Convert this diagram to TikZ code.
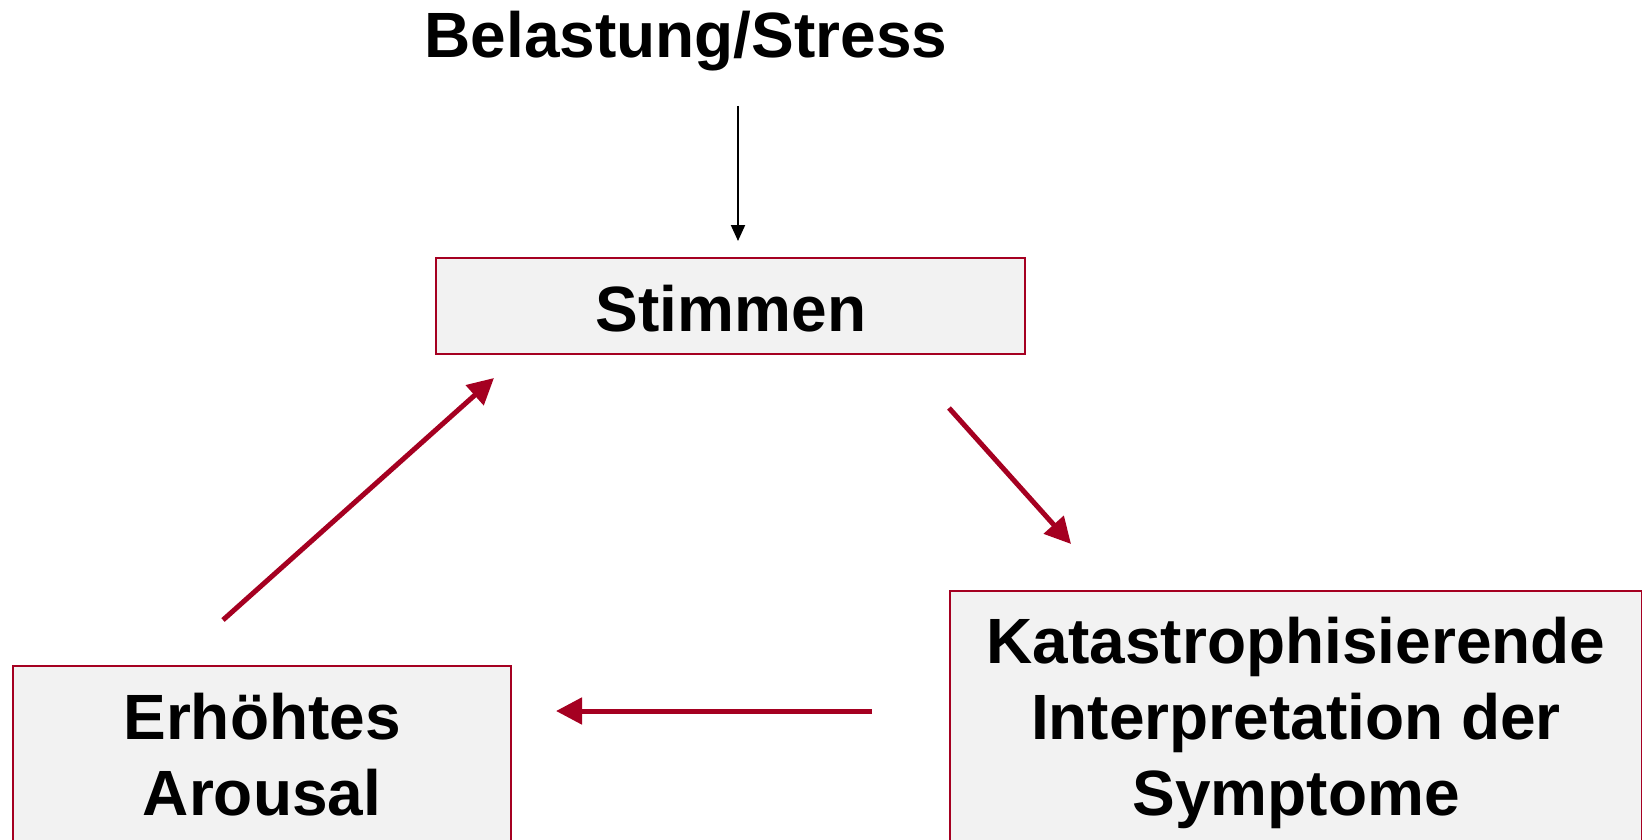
\documentclass[tikz,border=0pt]{standalone}
\usepackage{fontspec}
\setmainfont{Liberation Sans}
\usetikzlibrary{arrows.meta}
\definecolor{dred}{HTML}{A50021}
\definecolor{boxgray}{HTML}{F2F2F2}
\tikzset{
  box/.style={draw=dred, fill=boxgray, line width=1.5pt, anchor=north west, inner sep=0pt},
  lbl/.style={font=\fontsize{64}{76}\selectfont\bfseries, anchor=base, inner sep=0pt},
  redarrow/.style={draw=dred, line width=5pt, -{Triangle[length=26pt,width=26pt]}},
  blackarrow/.style={draw=black, line width=2pt, -{Triangle[length=16pt,width=14pt]}}
}
\begin{document}
\begin{tikzpicture}[x=1pt,y=-1pt]
\clip (0,0) rectangle (1642,840);
\fill[white] (0,0) rectangle (1642,840);
% boxes
\node[box, minimum width=589pt, minimum height=96pt] (stimmen) at (435,257) {};
\node[box, minimum width=692pt, minimum height=270pt] (kat) at (949,590) {};
\node[box, minimum width=498pt, minimum height=200pt] (erh) at (12,665) {};
% texts
\node[lbl] (tbel) at (686,58) {Belastung/Stress};
\node[lbl] (tstim) at (731,331) {Stimmen};
\node[lbl] (tkat1) at (1296,663) {Katastrophisierende};
\node[lbl] (tkat2) at (1296,739) {Interpretation der};
\node[lbl] (tkat3) at (1296,815) {Symptome};
\node[lbl] (terh1) at (262,739) {Erhöhtes};
\node[lbl] (terh2) at (262,815) {Arousal};
% arrow ends
\coordinate (b1) at (738,106);
\coordinate (b2) at (738,241);
\coordinate (r1a) at (949,408);
\coordinate (r1b) at (1071,544);
\coordinate (r2a) at (872,711);
\coordinate (r2b) at (556,711);
\coordinate (r3a) at (223,620);
\coordinate (r3b) at (494,378);
\draw[blackarrow] (b1) -- (b2);
\draw[redarrow] (r1a) -- (r1b);
\draw[redarrow] (r2a) -- (r2b);
\draw[redarrow] (r3a) -- (r3b);
\end{tikzpicture}
\end{document}
